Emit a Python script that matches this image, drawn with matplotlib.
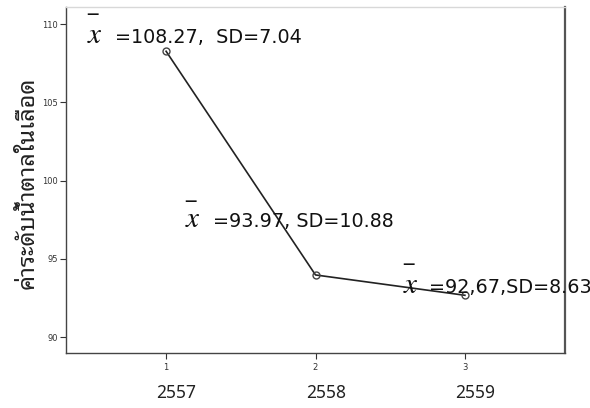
import matplotlib
matplotlib.use('Agg')
import matplotlib.pyplot as plt

# ข้อมูล
group = [1, 2, 3]
years = ['2557', '2558', '2559']
means = [108.27, 93.97, 92.67]
sds = [7.04, 10.88, 8.63]
labels = ['=108.27,  SD=7.04', '=93.97, SD=10.88', '=92,67,SD=8.63']

# ตำแหน่งข้อความ (x ของ x̄, x ของข้อความ, baseline y, ความสูงขีดบน) ในหน่วยข้อมูล
lab_pos = [(0.47, 0.66, 108.79, 0.85),
           (1.127, 1.314, 97.03, 0.66),
           (2.585, 2.759, 92.81, 0.82)]

fig = plt.figure(figsize=(5.9, 4.08), dpi=100)
ax = fig.add_axes([66/590, 55/408, (565-66)/590, (353-7)/408])

ax.plot(group, means, color='#222222', lw=1.2, marker='o', ms=5,
        mfc='none', mec='#444444', mew=1.0, zorder=3)

ax.set_xlim(0.33, 3.67)
ax.set_ylim(88.98, 111.1)
ax.set_xticks(group)
ax.set_yticks([90, 95, 100, 105, 110])
ax.tick_params(direction='out', length=4.5, width=0.8, labelsize=6,
               colors='#333333', pad=1.5)
ax.tick_params(axis='x', pad=3)

for s in ['left', 'bottom']:
    ax.spines[s].set_color('#444444')
    ax.spines[s].set_linewidth(1.0)
ax.spines['right'].set_color('#555555')
ax.spines['right'].set_linewidth(1.6)
ax.spines['top'].set_color('#d8d8d8')
ax.spines['top'].set_linewidth(1.0)

for (xb, xt, yb, hb), lab in zip(lab_pos, labels):
    ax.text(xb, yb, r'$x$', fontsize=21, va='baseline', ha='left',
            math_fontfamily='stix', color='#111111')
    # ขีดบนของ x̄
    ax.text(xb + 0.004, yb + hb, '\u203e', fontsize=15, va='baseline',
            ha='left', color='#111111', family='DejaVu Sans')
    ax.text(xt, yb, lab, fontsize=13.8, va='baseline', ha='left',
            color='#111111', family='DejaVu Sans')

# ปีใต้แกน x
for g, y in zip(group, years):
    ax.text(g + 0.07, -0.115, y, transform=ax.get_xaxis_transform(),
            ha='center', va='center', fontsize=12.5, color='#222222',
            family=['Noto Sans', 'DejaVu Sans'])

fig.text(28/590, 1 - 183/408, 'ค่าระดับน้ำตาลในเลือด', rotation=90,
         ha='center', va='center', fontsize=17, color='#222222',
         family=['Noto Sans Thai Looped', 'DejaVu Sans'])

fig.savefig('out.png', dpi=100)
